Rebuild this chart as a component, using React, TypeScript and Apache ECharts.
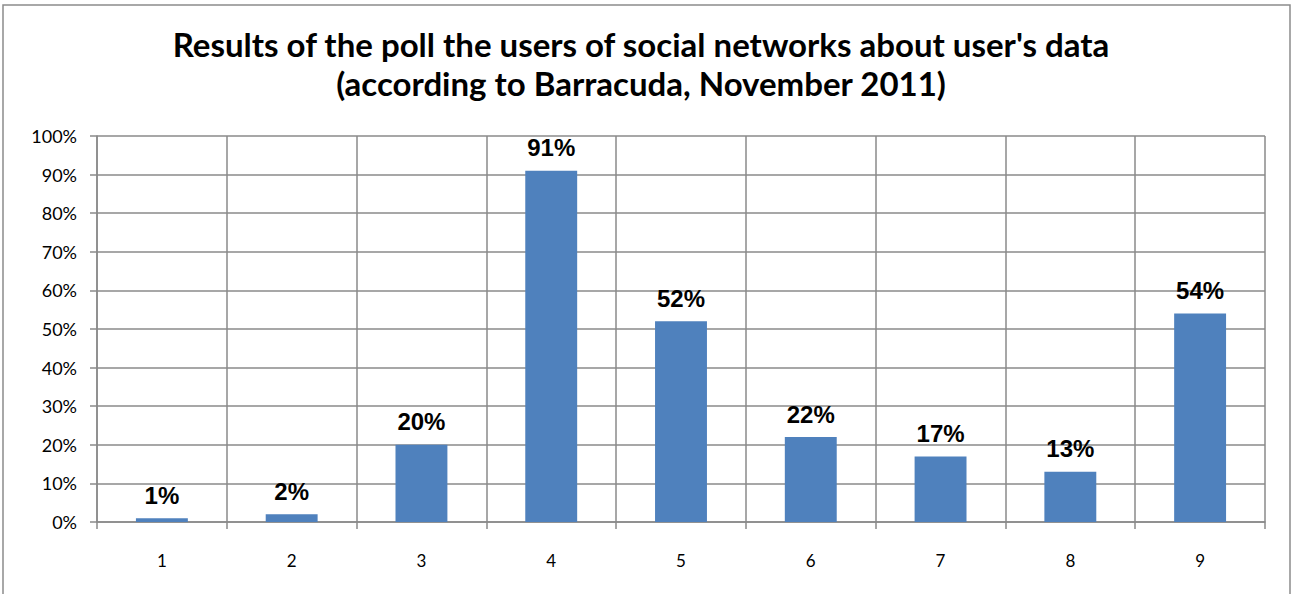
import React, { useEffect, useRef } from "react";
import * as echarts from "echarts";

const categories = ["1", "2", "3", "4", "5", "6", "7", "8", "9"];
const values = [1, 2, 20, 91, 52, 22, 17, 13, 54];
const titleLines = [
  "Results of the poll the users of social networks about user's data",
  "(according to Barracuda, November 2011)",
];

export default function App() {
  const ref = useRef<HTMLDivElement>(null);
  useEffect(() => {
    document.body.style.margin = "0";
    const chart = echarts.init(ref.current!, null, { renderer: "svg" });
    const gridColor = "#8a8a8a";
    chart.setOption({
      animation: false,
      backgroundColor: "#ffffff",
      title: {
        text: titleLines.join("\n"),
        left: 636,
        textAlign: "center",
        top: 19,
        textStyle: {
          fontFamily: "Lato",
          fontWeight: "bold",
          fontSize: 33,
          lineHeight: 39,
          color: "#000000",
        },
      },
      graphic: [
        {
          type: "rect",
          shape: { x: 3, y: 5, width: 1287, height: 600 },
          style: { fill: "none", stroke: "#8c8c8c", lineWidth: 1.5 },
          silent: true,
          z: 0,
        },
      ],
      grid: { left: 97, right: 31, top: 136, bottom: 72, containLabel: false },
      xAxis: {
        type: "category",
        data: categories,
        boundaryGap: true,
        axisLine: { show: true, lineStyle: { color: gridColor, width: 1.5 } },
        axisTick: { show: true, length: 7, interval: 0, lineStyle: { color: gridColor, width: 1.5 } },
        splitLine: { show: true, interval: 0, lineStyle: { color: gridColor, width: 1.5 } },
        axisLabel: {
          margin: 30,
          fontFamily: "Lato",
          fontSize: 17,
          color: "#000000",
        },
      },
      yAxis: {
        type: "value",
        min: 0,
        max: 100,
        interval: 10,
        axisLine: { show: true, lineStyle: { color: gridColor, width: 1.5 } },
        axisTick: { show: true, length: 7, lineStyle: { color: gridColor, width: 1.5 } },
        splitLine: { show: true, lineStyle: { color: gridColor, width: 1.5 } },
        axisLabel: {
          formatter: "{value}%",
          margin: 20,
          fontFamily: "Lato",
          fontSize: 18,
          color: "#000000",
        },
      },
      series: [
        {
          type: "bar",
          data: values,
          barWidth: "40%",
          itemStyle: { color: "#4f81bd" },
          label: {
            show: true,
            position: "top",
            distance: 11,
            formatter: "{c}%",
            fontFamily: "Liberation Sans",
            fontWeight: "bold",
            fontSize: 24,
            color: "#000000",
          },
        },
      ],
    });
    return () => chart.dispose();
  }, []);
  return <div ref={ref} style={{ width: 1296, height: 594 }} />;
}
